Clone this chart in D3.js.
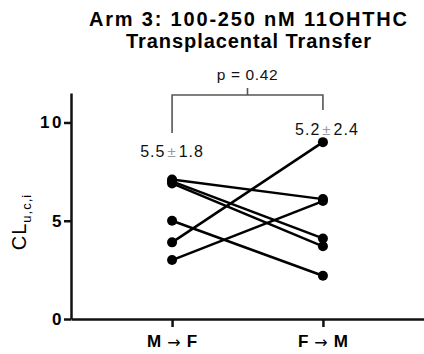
<!DOCTYPE html>
<html>
<head>
<meta charset="utf-8">
<script src="https://cdn.jsdelivr.net/npm/d3@7"></script>
<style>
    html, body { margin: 0; padding: 0; background: #fff; }
    svg { display: block; font-family: "Liberation Sans", Arial, sans-serif; }
</style>
</head>
<body>
<svg id="chart" width="424" height="354"></svg>
<script>
const groups = ["M|F", "F|M"];
const mToF = [7.1, 7.0, 6.9, 5.0, 3.9, 3.0];
const fToM = [6.1, 4.1, 3.7, 2.2, 9.0, 6.0];
const summaries = [["5.5", "1.8"], ["5.2", "2.4"]];
const yTicks = [0, 5, 10];
const pLabel = "p = 0.42";

const width = 424;
const height = 354;
const margin = { top: 93, right: 0, bottom: 35, left: 71 };

const svg = d3.select("#chart");

const x = d3.scalePoint()
    .domain(groups)
    .range([margin.left, width - margin.right])
    .padding(0.67);

const y = d3.scaleLinear()
    .domain([0, 11.5])
    .range([height - margin.bottom, margin.top]);

// title, stretched to the width of the original
const title = svg.append("g")
    .attr("font-size", 20)
    .attr("font-weight", 700)
    .attr("fill", "#000");
title.append("text")
    .attr("x", 89).attr("y", 26)
    .attr("textLength", 318).attr("lengthAdjust", "spacing")
    .text("Arm 3: 100-250 nM 11OHTHC");
title.append("text")
    .attr("x", 126).attr("y", 48)
    .attr("textLength", 245).attr("lengthAdjust", "spacing")
    .text("Transplacental Transfer");

// axes
const yAxis = svg.append("g")
    .attr("transform", `translate(${margin.left},0)`)
    .call(d3.axisLeft(y).tickValues(yTicks).tickSize(7).tickSizeOuter(0).tickPadding(2));

const xAxis = svg.append("g")
    .attr("transform", `translate(0,${y(0)})`)
    .call(d3.axisBottom(x).tickSize(8).tickSizeOuter(0).tickFormat(() => ""));

[yAxis, xAxis].forEach((axis) => {
    axis.select(".domain").attr("stroke", "#111").attr("stroke-width", 2.5);
    axis.selectAll(".tick line").attr("stroke", "#111").attr("stroke-width", 2.5);
});

yAxis.selectAll(".tick text")
    .attr("font-size", 17)
    .attr("font-weight", 700)
    .attr("letter-spacing", 2.5)
    .attr("dx", 2)
    .attr("fill", "#000")
    .attr("font-family", "Liberation Sans, Arial, sans-serif");

// x category labels with thin arrow
groups.forEach((g) => {
    const [a, b] = g.split("|");
    const t = svg.append("text")
        .attr("x", x(g))
        .attr("y", 347)
        .attr("text-anchor", "middle")
        .attr("font-size", 17)
        .attr("fill", "#000");
    t.append("tspan").attr("font-weight", 700).text(a);
    t.append("tspan")
        .attr("font-weight", 400)
        .attr("font-family", "DejaVu Sans, sans-serif")
        .attr("font-size", 16)
        .attr("dx", 6)
        .attr("dy", 1)
        .text("\u2192");
    t.append("tspan").attr("font-weight", 700).attr("dx", 6).attr("dy", -1).text(b);
});

// y label
const yLabel = svg.append("text")
    .attr("transform", `translate(26,222) rotate(-90)`)
    .attr("text-anchor", "middle")
    .attr("font-size", 20)
    .attr("letter-spacing", 1)
    .attr("fill", "#000");
yLabel.append("tspan").text("CL");
yLabel.append("tspan").attr("font-size", 13).attr("dy", 5).text("u,c,i");

// paired lines
const pairs = mToF.map((v, i) => [v, fToM[i]]);

svg.append("g")
    .selectAll("line")
    .data(pairs)
    .join("line")
    .attr("x1", x(groups[0]))
    .attr("y1", (d) => y(d[0]))
    .attr("x2", x(groups[1]))
    .attr("y2", (d) => y(d[1]))
    .attr("stroke", "#000")
    .attr("stroke-width", 2.5);

const points = pairs.flatMap((d) => [
    { g: groups[0], v: d[0] },
    { g: groups[1], v: d[1] }
]);

svg.append("g")
    .selectAll("circle")
    .data(points)
    .join("circle")
    .attr("cx", (d) => x(d.g))
    .attr("cy", (d) => y(d.v))
    .attr("r", 5)
    .attr("fill", "#000");

// bracket
const bracketTop = 95;
const bx0 = x(groups[0]);
const bx1 = x(groups[1]);
const bmid = (bx0 + bx1) / 2;
svg.append("path")
    .attr("d", `M${bx0},133 V${bracketTop} H${bx1} V110 M${bmid},${bracketTop} V88`)
    .attr("fill", "none")
    .attr("stroke", "#555")
    .attr("stroke-width", 1.6);

svg.append("text")
    .attr("x", bmid)
    .attr("y", 80)
    .attr("text-anchor", "middle")
    .attr("font-size", 15.5)
    .attr("letter-spacing", 0.6)
    .attr("fill", "#111")
    .text(pLabel);

// mean +- sd labels
const summaryY = [157, 135];
summaries.forEach(([m, s], i) => {
    const t = svg.append("text")
        .attr("x", x(groups[i]) + (i === 1 ? 4 : 0))
        .attr("y", summaryY[i])
        .attr("text-anchor", "middle")
        .attr("font-size", 16)
        .attr("letter-spacing", 1)
        .attr("fill", "#111");
    t.append("tspan").text(m);
    t.append("tspan").attr("fill", "#999").attr("font-size", 15).attr("dx", 2).text("\u00b1");
    t.append("tspan").attr("dx", 2).text(s);
});
</script>
</body>
</html>
